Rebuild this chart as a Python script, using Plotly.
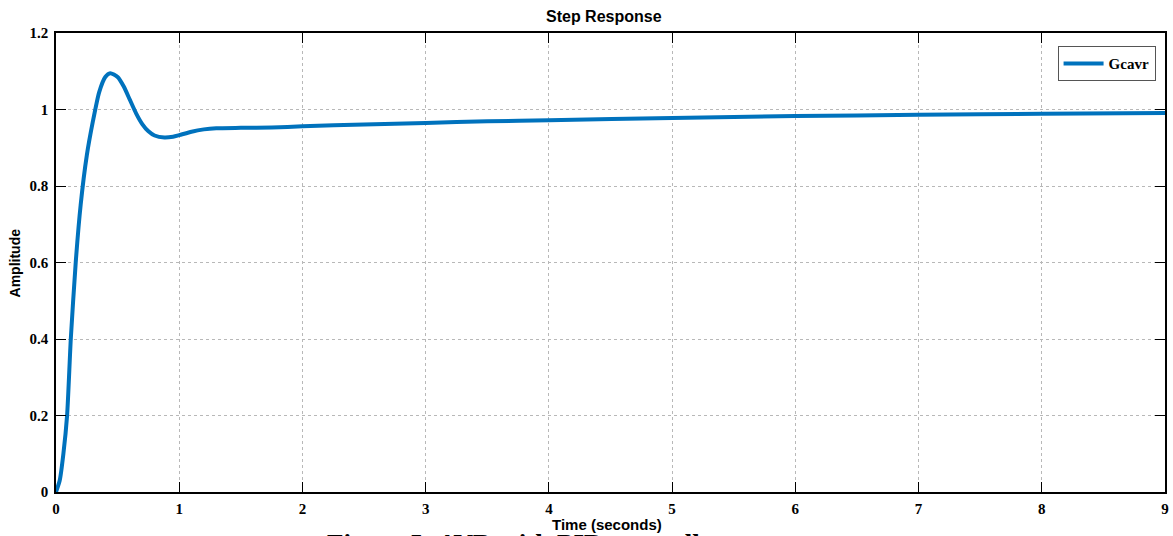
import plotly.graph_objects as go

# Step response readings (time in seconds, amplitude)
time_s = [0, 0.03, 0.06, 0.09, 0.12, 0.16, 0.2, 0.25, 0.3, 0.35, 0.4, 0.44, 0.5,
          0.55, 0.6, 0.65, 0.7, 0.75, 0.8, 0.88, 0.95, 1.0, 1.1, 1.2, 1.3, 1.5,
          1.75, 2, 2.5, 3, 3.5, 4, 5, 6, 7, 8, 9]
amplitude = [0, 0.03, 0.1, 0.2, 0.4, 0.6, 0.75, 0.88, 0.97, 1.045, 1.085, 1.095,
             1.085, 1.06, 1.025, 0.99, 0.962, 0.943, 0.932, 0.927, 0.929, 0.933,
             0.942, 0.948, 0.951, 0.952, 0.953, 0.956, 0.961, 0.965, 0.969, 0.972,
             0.978, 0.983, 0.986, 0.989, 0.991]
series_name = "Gcavr"
x_ticks = [0, 1, 2, 3, 4, 5, 6, 7, 8, 9]
y_ticks = [0, 0.2, 0.4, 0.6, 0.8, 1, 1.2]
y_tick_labels = ["0", "0.2", "0.4", "0.6", "0.8", "1", "1.2"]

fig = go.Figure()
fig.add_trace(go.Scatter(
    x=time_s, y=amplitude, mode="lines", name=series_name,
    line=dict(color="#0072BD", width=4, shape="spline", smoothing=0.6),
))

axis_common = dict(
    showline=True, linecolor="black", linewidth=1.5, mirror="ticks",
    ticks="inside", ticklen=10, tickwidth=1.2, tickcolor="black",
    showgrid=True, gridcolor="#b8b8b8", griddash="dot", gridwidth=1,
    zeroline=False, automargin=False,
    tickfont=dict(family="Liberation Serif", size=15, color="black", weight="bold"),
)

fig.update_layout(
    width=1173, height=536,
    margin=dict(l=56, r=8, t=33, b=44),
    paper_bgcolor="white", plot_bgcolor="white",
    xaxis=dict(range=[0, 9], tickvals=x_ticks, ticklabelstandoff=2,
               ticklabeloverflow="allow", **axis_common),
    yaxis=dict(range=[0, 1.2], tickvals=y_ticks, ticktext=y_tick_labels,
               ticklabelstandoff=3, **axis_common),
    showlegend=True,
    legend=dict(x=0.9915, y=0.971, xanchor="right", yanchor="top",
                bordercolor="#555555", borderwidth=1, bgcolor="white",
                font=dict(family="Liberation Serif", size=15, color="black", weight="bold"),
                itemwidth=40),
)

fig.add_annotation(text="<b>Step Response</b>", xref="paper", yref="paper",
                   x=0.4945, y=1.035, xanchor="center", yanchor="middle",
                   showarrow=False, font=dict(family="Liberation Sans", size=16, color="black"))
fig.add_annotation(text="<b>Amplitude</b>", xref="paper", yref="paper",
                   x=-0.037, y=0.5, xanchor="center", yanchor="middle", textangle=-90,
                   showarrow=False, font=dict(family="Liberation Sans", size=14, color="black"))
fig.add_annotation(text="<b>Time (seconds)</b>", xref="paper", yref="paper",
                   x=0.497, y=-0.047, xanchor="center", yanchor="top",
                   showarrow=False, font=dict(family="Liberation Sans", size=15, color="black"))
fig.add_annotation(text="<b>Figure 5: AVR with PID controller</b>", xref="paper", yref="paper",
                   x=0.243, y=-0.076, xanchor="left", yanchor="top",
                   showarrow=False, font=dict(family="Liberation Serif", size=27, color="black"))

fig.write_html(
    "out.html",
    config={"displayModeBar": False},
    post_script="document.body.style.margin='0';document.body.style.overflow='hidden';",
)
